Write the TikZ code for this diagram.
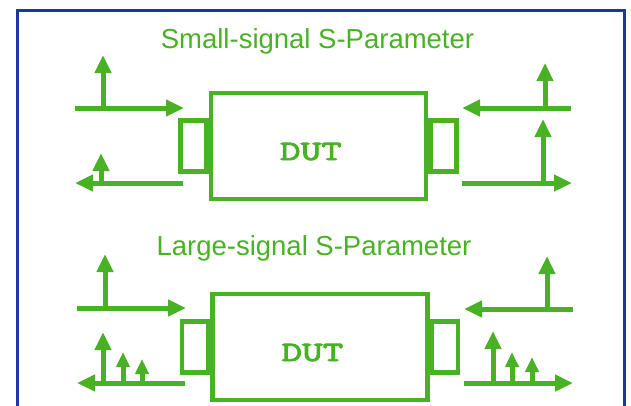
\documentclass[tikz,border=0pt]{standalone}
\usepackage{fontspec}
\setmainfont{Liberation Sans}
\newfontfamily\dutfont[FakeBold=3, FakeStretch=1.4]{lmmono10-regular.otf}
\usepackage{xcolor}
\usepackage{tikz}
\usetikzlibrary{arrows.meta}

\definecolor{sigGreen}{RGB}{72,178,36}
\definecolor{frameBlue}{RGB}{30,55,160}

\tikzset{
  wave/.style={-{Triangle[length=18pt,width=16pt]}, line width=5pt, color=sigGreen},
  tone/.style={-{Triangle[length=15pt,width=13pt]}, line width=5pt, color=sigGreen},
  dutbox/.style={draw=sigGreen, line width=4.5pt, minimum width=215pt, minimum height=106pt, inner sep=0pt},
  porttab/.style={draw=sigGreen, line width=4.5pt, minimum width=26pt, minimum height=51pt, inner sep=0pt},
  heading/.style={color=sigGreen, font=\fontsize{27.5}{32}\selectfont, anchor=base},
  dutlabel/.style={color=sigGreen, font=\dutfont\fontsize{28}{32}\selectfont, anchor=base}
}

\begin{document}
\begin{tikzpicture}[x=1pt, y=-1pt]
  \useasboundingbox (0,0) rectangle (631,405);
  \fill[white] (0,0) rectangle (631,405);
  \draw[color=frameBlue, line width=3pt] (17,410) -- (17,10) -- (624.5,10) -- (624.5,410);

  % small-signal
  \node[heading] (smallTitle) at (317.5,48) {Small-signal S-Parameter};
  \node[dutbox] (smallDut) at (318.5,146) {};
  \node[dutlabel] (smallLab) at (311,160) {DUT};
  \node[porttab, anchor=east] (smallIn) at (smallDut.west) {};
  \node[porttab, anchor=west] (smallOut) at (smallDut.east) {};

  \coordinate (aIncL) at (75,108);   \coordinate (aIncLend) at (184,108);
  \coordinate (aRefL) at (183,183);  \coordinate (aRefLend) at (75,183);
  \coordinate (aIncR) at (571,108);  \coordinate (aIncRend) at (462,108);
  \coordinate (aRefR) at (462,183);  \coordinate (aRefRend) at (572,183);
  \draw[wave] (aIncL) -- (aIncLend);
  \draw[wave] (103,108) -- (103,55);
  \draw[wave] (aRefL) -- (aRefLend);
  \draw[wave] (101,183) -- (101,153);
  \draw[wave] (aIncR) -- (aIncRend);
  \draw[wave] (545,108) -- (545,63);
  \draw[wave] (aRefR) -- (aRefRend);
  \draw[wave] (543,183) -- (543,119);

  % large-signal
  \node[heading] (largeTitle) at (314,255) {Large-signal S-Parameter};
  \node[dutbox] (largeDut) at (320,347) {};
  \node[dutlabel] (largeLab) at (312.5,361) {DUT};
  \node[porttab, anchor=east] (largeIn) at (largeDut.west) {};
  \node[porttab, anchor=west] (largeOut) at (largeDut.east) {};

  \coordinate (bIncL) at (77,308);   \coordinate (bIncLend) at (186,308);
  \coordinate (bRefL) at (185,383);  \coordinate (bRefLend) at (77,383);
  \coordinate (bIncR) at (573,309);  \coordinate (bIncRend) at (464,309);
  \coordinate (bRefR) at (464,383);  \coordinate (bRefRend) at (573,383);
  \draw[wave] (bIncL) -- (bIncLend);
  \draw[wave] (105,308) -- (105,254);
  \draw[wave] (bRefL) -- (bRefLend);
  \draw[wave] (103,383) -- (103,332);
  \draw[tone] (123,383) -- (123,352);
  \draw[tone] (142,383) -- (142,359);
  \draw[wave] (bIncR) -- (bIncRend);
  \draw[wave] (547,309) -- (547,256);
  \draw[wave] (bRefR) -- (bRefRend);
  \draw[wave] (493,383) -- (493,331);
  \draw[tone] (512,383) -- (512,352);
  \draw[tone] (532,383) -- (532,357);
\end{tikzpicture}
\end{document}
